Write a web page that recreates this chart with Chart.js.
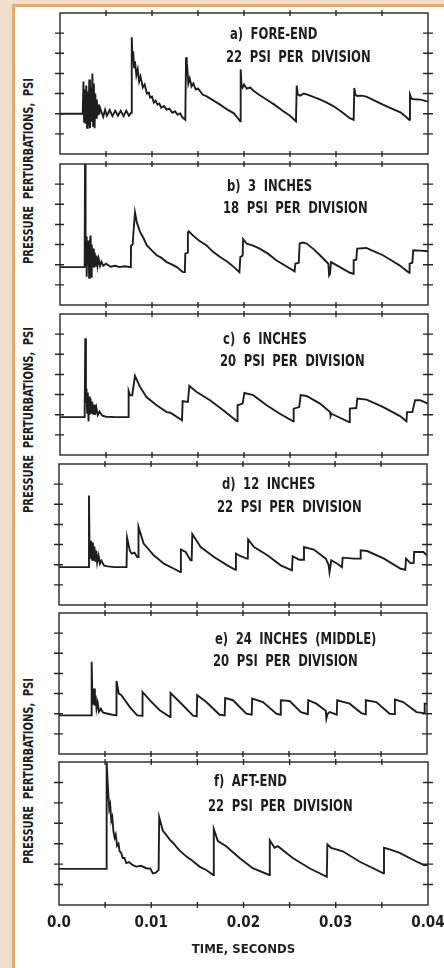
<!DOCTYPE html>
<html>
<head>
<meta charset="utf-8">
<script src="https://cdn.jsdelivr.net/npm/chart.js@4.4.1/dist/chart.umd.min.js"></script>
<style>
  body { margin: 0; }
  #page { position: relative; width: 444px; height: 968px; overflow: hidden; background: #efdfcb; }
  #sheet { position: absolute; left: 12px; top: 4px; width: 460px; height: 990px; background: #fff;
           border-left: 3px solid #f6a75b; border-top: 3px solid #f6a75b; }
  canvas { position: absolute; left: 0; }
  .cap, .ytitle { position: absolute; color: #1e1e1e; white-space: nowrap;
         font-family: 'Liberation Sans Narrow', 'DejaVu Sans Condensed', sans-serif; font-weight: bold; }
  .cap { font-size: 15px; line-height: 16px; word-spacing: 4px;
         transform: scaleX(0.86); transform-origin: 0 50%; }
  .ytitle { font-size: 14px; line-height: 14px; word-spacing: 4px;
            transform: translate(-50%, -50%) rotate(-90deg) scaleX(0.79); }
</style>
</head>
<body>
<div id="page">
  <div id="sheet"></div>

  <div class="ytitle" style="left:28px; top:171px;">PRESSURE PERTURBATIONS, PSI</div>
  <div class="ytitle" style="left:28px; top:420px;">PRESSURE PERTURBATIONS, PSI</div>
  <div class="ytitle" style="left:28px; top:771px;">PRESSURE PERTURBATIONS, PSI</div>

  <canvas id="panel-a" width="444" height="161" style="top:3px"></canvas>
  <canvas id="panel-b" width="444" height="161" style="top:154px"></canvas>
  <canvas id="panel-c" width="444" height="161" style="top:304px"></canvas>
  <canvas id="panel-d" width="444" height="161" style="top:454px"></canvas>
  <canvas id="panel-e" width="444" height="161" style="top:603px"></canvas>
  <canvas id="panel-f" width="444" height="216" style="top:752px"></canvas>

  <div class="cap" style="left:230px; top:26px;">a) FORE-END</div>
  <div class="cap" style="left:226px; top:49px;">22 PSI PER DIVISION</div>
  <div class="cap" style="left:227px; top:178px;">b) 3 INCHES</div>
  <div class="cap" style="left:223px; top:200px;">18 PSI PER DIVISION</div>
  <div class="cap" style="left:223px; top:331px;">c) 6 INCHES</div>
  <div class="cap" style="left:220px; top:353px;">20 PSI PER DIVISION</div>
  <div class="cap" style="left:222px; top:476px;">d) 12 INCHES</div>
  <div class="cap" style="left:217px; top:499px;">22 PSI PER DIVISION</div>
  <div class="cap" style="left:215px; top:631px;">e) 24 INCHES (MIDDLE)</div>
  <div class="cap" style="left:213px; top:653px;">20 PSI PER DIVISION</div>
  <div class="cap" style="left:214px; top:773px;">f) AFT-END</div>
  <div class="cap" style="left:208px; top:798px;">22 PSI PER DIVISION</div>
</div>

<script>
// ============================================
// DATA  (time in ms, pressure in divisions above the initial level)
// ============================================

const xTickVals = [0.005, 0.01, 0.015, 0.02, 0.025, 0.03, 0.035];
const xTickLabels = ['0.0', '0.01', '0.02', '0.03', '0.04'];
const yTickVals = [-1, 0, 1, 2, 3, 4];

// a) fore-end
const traceA = [
    [0, 0], [2.47, 0],
    [2.55, 1.6], [2.62, -0.4], [2.7, 1.2], [2.78, -0.5], [2.86, 1.4], [2.94, -0.7], [3.02, 1.1],
    [3.1, -0.6], [3.18, 1.7], [3.26, -0.72], [3.34, 1.3], [3.42, -0.4], [3.52, 2.0], [3.6, -0.6],
    [3.68, 1.5], [3.76, -0.72], [3.84, 1.0], [3.92, -0.2], [4.0, 0.7], [4.08, -0.1], [4.17, 0.45],
    [4.26, -0.05], [4.35, 0.3],
    [4.5, 0.1], [4.7, -0.15], [4.9, 0.2], [5.1, -0.1], [5.4, 0.18], [5.7, -0.12], [6.0, 0.15],
    [6.3, -0.1], [6.6, 0.15], [6.9, -0.12], [7.2, 0.15], [7.5, -0.1], [7.75, 0.05],
    [7.8, 3.8], [7.88, 2.6], [7.95, 3.1], [8.05, 2.3], [8.15, 2.6], [8.3, 1.9], [8.45, 2.2],
    [8.6, 1.6], [8.75, 1.85], [9.0, 1.3], [9.2, 1.45], [9.45, 1.0], [9.65, 1.05], [9.8, 0.8],
    [10.0, 0.85], [10.2, 0.55], [10.4, 0.65], [10.6, 0.45], [10.8, 0.5], [11.0, 0.3], [11.3, 0.38],
    [11.6, 0.2], [11.9, 0.25], [12.2, 0.05], [12.5, 0.12], [12.8, -0.05], [13.05, 0.02],
    [13.3, -0.18], [13.62, -0.3],
    [13.7, 2.8], [13.78, 1.9], [13.86, 2.1], [13.95, 1.5], [14.1, 1.75], [14.3, 1.35], [14.5, 1.5],
    [14.75, 1.2], [15.0, 1.25], [15.5, 0.95], [16.0, 0.85], [16.7, 0.65], [17.4, 0.45], [18.2, 0.2],
    [18.9, 0.02], [19.3, -0.2], [19.58, -0.38],
    [19.64, 2.2], [19.72, 1.45], [19.85, 1.3], [20.0, 1.45], [20.3, 1.25], [20.7, 1.3], [21.0, 1.15],
    [21.6, 0.95], [22.4, 0.72], [23.3, 0.45], [24.2, 0.15], [25.0, -0.1], [25.65, -0.38],
    [25.73, 1.4], [25.85, 0.95], [26.1, 0.9], [26.5, 1.0], [26.9, 0.95], [27.6, 0.82], [28.3, 0.7],
    [29.0, 0.55], [29.7, 0.38], [30.6, 0.1], [31.5, -0.22], [31.92, -0.3],
    [31.99, 1.28], [32.1, 0.95], [32.3, 0.88], [32.8, 0.9], [33.3, 0.85], [34.2, 0.65], [35.1, 0.45],
    [36.0, 0.27], [37.0, 0.07], [37.6, -0.15], [37.95, -0.3],
    [38.04, 0.95], [38.2, 0.75], [38.5, 0.72], [39.2, 0.7], [40, 0.6]
];

// b) 3 inches
const traceB = [
    [0, -0.12], [2.6, -0.12], [2.68, -0.1], [2.72, 5.0], [2.78, -0.1], [2.85, 1.4], [2.9, -0.6],
    [2.97, 1.1], [3.03, 0.0], [3.1, 1.2], [3.17, -0.65], [3.23, 1.1], [3.33, 1.45], [3.38, -0.6],
    [3.45, 1.0], [3.52, -0.1], [3.6, 0.8], [3.68, -0.15], [3.78, 0.6], [3.88, -0.1], [3.98, 0.45],
    [4.08, -0.05], [4.2, 0.3], [4.35, -0.05], [4.5, 0.15], [4.7, -0.05], [5.0, 0.05], [5.5, -0.1],
    [6.0, -0.05], [6.5, -0.12], [7.0, -0.08], [7.7, -0.12],
    [7.72, 0.95], [7.9, 1.0], [7.95, 1.4], [8.15, 2.6], [8.35, 2.1], [8.7, 1.63], [9.1, 1.3],
    [9.42, 0.97], [10.0, 0.7], [10.5, 0.47], [11.0, 0.35], [11.6, 0.13], [12.2, 0.0], [12.7, -0.12],
    [13.35, -0.37], [13.57, -0.37],
    [13.62, 0.55], [13.85, 0.6], [13.9, 1.6], [14.0, 1.65], [14.5, 1.43], [15.1, 1.2], [15.9, 0.97],
    [16.6, 0.65], [17.4, 0.38], [18.2, 0.15], [18.9, -0.12], [19.5, -0.37],
    [19.6, 0.38], [19.85, 0.45], [19.9, 1.27], [20.2, 1.1], [20.3, 1.05], [21.0, 0.95], [21.7, 0.8],
    [22.6, 0.55], [23.5, 0.22], [24.5, -0.05], [25.5, -0.33],
    [25.58, 0.05], [25.95, 0.1], [26.05, 1.05], [26.4, 1.1], [26.8, 1.05], [27.5, 0.8], [28.26, 0.47],
    [29.17, 0.05], [29.25, -0.53], [29.35, -0.45], [29.46, 0.13], [30.43, -0.12], [31.52, -0.4],
    [31.86, -0.45],
    [31.92, 0.22], [32.2, 0.25], [32.3, 0.8], [33.3, 0.83], [34.2, 0.65], [35.1, 0.47], [36.0, 0.22],
    [36.9, -0.03], [37.95, -0.4],
    [38.0, 0.05], [38.3, 0.1], [38.4, 0.72], [39.2, 0.7], [40, 0.67]
];

// c) 6 inches
const traceC = [
    [0, -0.12], [2.68, -0.12], [2.75, 3.8], [2.82, 0.6], [2.88, 1.3], [2.95, 0.1], [3.02, 1.1],
    [3.1, -0.33], [3.16, 0.9], [3.24, 0.0], [3.32, 0.8], [3.4, 0.05], [3.5, 0.65], [3.6, 0.0],
    [3.7, 0.5], [3.8, 0.0], [3.95, 0.35], [4.1, -0.02], [4.3, 0.15], [4.6, -0.05], [5.0, -0.1],
    [6.0, -0.12], [7.42, -0.12],
    [7.46, 1.17], [7.6, 0.97], [7.85, 0.97], [8.15, 1.93], [8.7, 1.38], [9.4, 0.88], [10.5, 0.47],
    [11.6, 0.13], [12.0, 0.1], [13.26, -0.28],
    [13.33, 0.67], [13.9, 0.63], [14.06, 1.43], [14.86, 1.13], [16.3, 0.72], [17.75, 0.22], [19.24, -0.33],
    [19.3, 0.47], [19.85, 0.55], [20.04, 1.08], [21.0, 0.97], [22.46, 0.47], [23.9, 0.05], [25.34, -0.33],
    [25.4, 0.3], [26.0, 0.38], [26.16, 0.97], [26.8, 0.93], [28.26, 0.55], [29.35, 0.13], [29.42, -0.05],
    [29.5, 0.05], [31.42, -0.37],
    [31.5, 0.3], [32.2, 0.33], [32.32, 0.8], [33.33, 0.75], [35.14, 0.38], [36.96, -0.07], [37.66, -0.33],
    [37.72, 0.13], [38.3, 0.13], [38.59, 0.72], [39.13, 0.72], [40, 0.55]
];

// d) 12 inches
const traceD = [
    [0, -0.12], [3.2, -0.12], [3.26, 3.43], [3.32, 0.8], [3.38, 1.2], [3.45, 0.3], [3.52, 1.15],
    [3.6, 0.25], [3.68, 1.1], [3.76, 0.2], [3.85, 0.9], [3.95, 0.15], [4.05, 0.7], [4.15, 0.1],
    [4.3, 0.45], [4.45, 0.05], [4.6, 0.2], [4.9, -0.05], [5.3, -0.08], [6.0, -0.12], [7.34, -0.12],
    [7.4, 1.35], [7.7, 0.7], [7.9, 0.55], [8.2, 0.6], [8.5, 0.38], [8.6, 0.38],
    [8.64, 1.88], [9.2, 1.05], [10.3, 0.47], [11.4, 0.05], [12.5, -0.2], [13.18, -0.37],
    [13.25, 0.75], [13.77, 0.63], [14.3, 0.22], [14.42, 0.22],
    [14.49, 1.52], [15.4, 0.88], [16.85, 0.38], [18.3, -0.03], [19.16, -0.25],
    [19.23, 0.55], [19.75, 0.42], [20.4, 0.3], [20.52, 0.3],
    [20.56, 1.25], [21.2, 0.88], [22.65, 0.47], [24.1, -0.03], [25.32, -0.28],
    [25.4, 0.42], [26.1, 0.25], [26.58, 0.25],
    [26.63, 0.88], [27.7, 0.75], [29.0, 0.3], [29.3, 0.0], [29.4, -0.37], [29.6, 0.22], [30.25, 0.05],
    [30.76, -0.12],
    [30.83, 0.35], [32.07, 0.3], [32.74, 0.3],
    [32.79, 0.72], [33.5, 0.68], [35.33, 0.3], [37.14, -0.2], [37.64, -0.25],
    [37.72, 0.3], [38.2, 0.08], [38.55, 0.08], [38.6, 0.63], [39.6, 0.63], [40, 0.47]
];

// e) 24 inches (middle)
const traceE = [
    [0, -0.08], [3.5, -0.08], [3.55, 2.58], [3.62, 1.0], [3.68, 1.2], [3.75, 0.45], [3.82, 1.25],
    [3.9, 0.4], [3.98, 0.9], [4.08, 0.25], [4.2, 0.55], [4.35, 0.1], [4.55, 0.25], [4.8, 0.05],
    [5.3, 0.0], [5.8, -0.05], [6.21, -0.08],
    [6.25, 1.63], [6.5, 1.0], [6.78, 0.92], [7.7, 0.33], [8.5, -0.08], [9.03, -0.1],
    [9.08, 1.08], [9.86, 0.67], [10.95, 0.17], [12.07, -0.17],
    [12.12, 1.03], [13.12, 0.58], [14.57, -0.1], [14.97, -0.13],
    [15.02, 0.92], [16.01, 0.58], [17.46, -0.05], [18.01, -0.08],
    [18.06, 0.78], [18.91, 0.67], [20.36, 0.0], [20.95, -0.05],
    [21.0, 0.75], [22.17, 0.58], [23.62, 0.0], [24.06, -0.05],
    [24.11, 0.67], [25.07, 0.63], [26.3, 0.08], [27.04, -0.02],
    [27.09, 0.67], [27.97, 0.5], [29.0, 0.15], [29.06, -0.25], [29.2, 0.0], [29.42, 0.08], [30.19, -0.05],
    [30.24, 0.67], [31.59, 0.5], [32.86, 0.03], [33.3, -0.03],
    [33.35, 0.67], [34.49, 0.58], [35.94, 0.0], [36.46, -0.02],
    [36.51, 0.7], [37.41, 0.58], [38.86, 0.08], [39.7, 0.03], [39.75, 0.5], [40, 0.5]
];

// f) aft-end
const traceF = [
    [0, -0.23], [5.1, -0.23], [5.13, 4.97], [5.2, 4.97], [5.34, 3.47], [5.45, 2.7], [5.55, 2.9],
    [5.67, 2.13], [5.78, 2.3], [5.9, 1.6], [6.03, 1.3], [6.15, 1.45], [6.3, 0.9], [6.45, 1.0],
    [6.57, 0.63], [6.75, 0.55], [6.9, 0.3], [7.1, 0.3], [7.29, 0.05], [7.6, 0.1], [8.0, -0.05],
    [8.38, -0.12], [8.9, -0.08], [9.46, -0.2], [9.9, -0.22], [10.18, -0.45], [10.5, -0.42], [10.8, -0.28],
    [10.86, 2.3], [11.26, 1.63], [11.6, 1.45], [12.0, 1.2], [12.35, 1.05], [13.0, 0.7], [13.79, 0.38],
    [14.5, 0.15], [15.23, -0.12], [16.0, -0.3], [16.72, -0.53],
    [16.78, 1.72], [17.22, 1.13], [18.12, 0.88], [19.57, 0.3], [21.0, -0.2], [22.79, -0.53],
    [22.85, 1.17], [23.36, 0.8], [23.72, 0.88], [25.34, 0.3], [27.15, -0.2], [29.03, -0.62],
    [29.09, 0.97], [29.49, 0.8], [30.76, 0.63], [32.56, 0.13], [35.17, -0.45],
    [35.23, 0.8], [35.85, 0.72], [36.93, 0.55], [38.74, 0.13], [39.6, -0.05], [40, -0.03]
];

// ============================================
// CHARTS
// ============================================

const FONT = "'Liberation Sans Narrow', 'DejaVu Sans Condensed', sans-serif";
const INK = '#1e1e1e';

// frame + cross ticks on all four sides, placed with the chart's own scales
const framePlugin = {
    id: 'frame',
    afterDatasetsDraw(chart) {
        const { ctx, chartArea: a, scales: { x, y } } = chart;
        ctx.save();
        ctx.strokeStyle = '#262626';
        ctx.lineWidth = 1.4;
        ctx.strokeRect(a.left, a.top, a.right - a.left, a.bottom - a.top);
        ctx.beginPath();
        yTickVals.forEach(v => {
            const py = y.getPixelForValue(v);
            ctx.moveTo(a.left - 5, py); ctx.lineTo(a.left + 4, py);
            ctx.moveTo(a.right - 5, py); ctx.lineTo(a.right + 5, py);
        });
        xTickVals.forEach(v => {
            const px = x.getPixelForValue(v);
            ctx.moveTo(px, a.top - 3); ctx.lineTo(px, a.top + 3);
            ctx.moveTo(px, a.bottom - 3); ctx.lineTo(px, a.bottom + 3);
        });
        ctx.stroke();
        ctx.restore();
    }
};

function makePanel(id, trace, box, showTime) {
    const xScale = { type: 'linear', min: 0, max: 0.04, display: false };
    if (showTime) {
        Object.assign(xScale, {
            display: true,
            grid: { display: false, drawTicks: false },
            border: { display: false },
            ticks: {
                stepSize: 0.005, autoSkip: false, maxRotation: 0, padding: 9, color: INK,
                font: { family: FONT, size: 15, weight: 'bold' },
                callback: (v, i) => (i % 2 === 0 ? xTickLabels[i / 2] : '')
            },
            title: {
                display: true, text: 'TIME, SECONDS', color: INK,
                font: { family: FONT, size: 13, weight: 'bold' },
                padding: { top: 0, bottom: 11 }
            },
            afterFit: s => {
                s.height = 63;
                // labels may run past the frame; keep the frame where it is
                s.paddingLeft = 0;
                s.paddingRight = 0;
            }
        });
    }

    return new Chart(document.getElementById(id), {
        type: 'line',
        data: {
            datasets: [{
                data: trace.map(p => ({ x: p[0] / 1000, y: p[1] })),
                borderColor: INK,
                borderWidth: 1.9,
                pointRadius: 0,
                tension: 0,
                fill: false
            }]
        },
        options: {
            responsive: false,
            animation: false,
            events: [],
            layout: { padding: box },
            plugins: { legend: { display: false }, tooltip: { enabled: false } },
            scales: {
                x: xScale,
                y: { type: 'linear', min: -2, max: 5, display: false }
            }
        },
        plugins: [framePlugin]
    });
}

makePanel('panel-a', traceA, { left: 60, right: 16, top: 10, bottom: 10 });
makePanel('panel-b', traceB, { left: 60, right: 16, top: 10, bottom: 10 });
makePanel('panel-c', traceC, { left: 60, right: 16, top: 10, bottom: 10 });
makePanel('panel-d', traceD, { left: 59, right: 17, top: 10, bottom: 10 });
makePanel('panel-e', traceE, { left: 59, right: 17, top: 10, bottom: 10 });
makePanel('panel-f', traceF, { left: 59, right: 16, top: 10, bottom: 0 }, true);
</script>
</body>
</html>
